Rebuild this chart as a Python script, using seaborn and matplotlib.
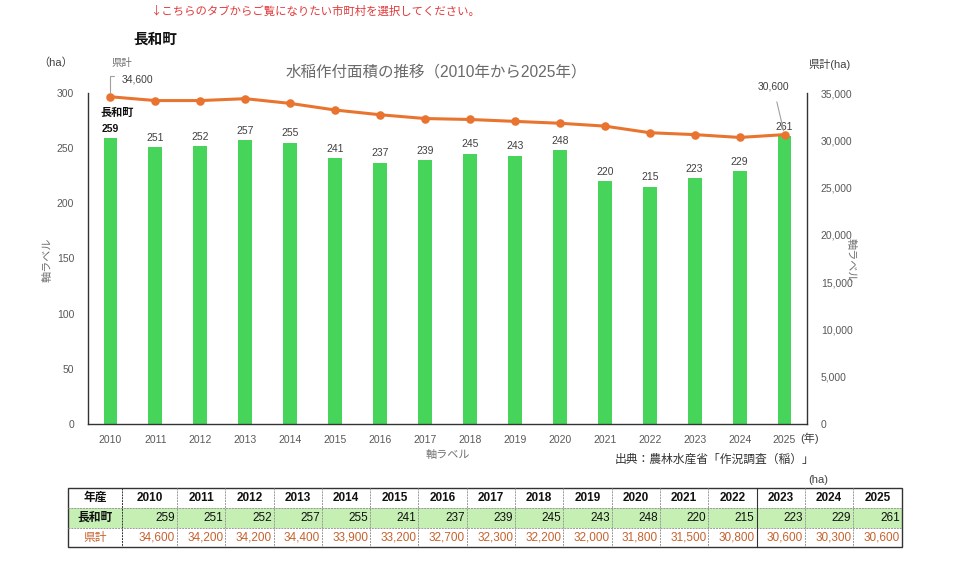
import numpy as np
import pandas as pd
import matplotlib
matplotlib.use("Agg")
import matplotlib.pyplot as plt
import seaborn as sns

years = [str(y) for y in range(2010, 2026)]
town = [259, 251, 252, 257, 255, 241, 237, 239, 245, 243, 248, 220, 215, 223, 229, 261]
pref = [34600, 34200, 34200, 34400, 33900, 33200, 32700, 32300, 32200, 32000,
        31800, 31500, 30800, 30600, 30300, 30600]
town_name = "長和町"
pref_name = "県計"

sns.set_theme(style="white")
plt.rcParams["font.family"] = ["Liberation Sans", "Noto Sans CJK JP", "DejaVu Sans"]

BAR = "#47D45A"
LINE = "#E8742F"
TICK = "#595959"
ORANGE_TXT = "#C4622D"

fig = plt.figure(figsize=(9.6, 5.68), dpi=100)
W, H = 960, 568


def fx(px):
    return px / W


def fy(py):
    return 1 - py / H


ax = fig.add_axes([fx(88), fy(424), fx(807 - 88), fy(93) - fy(424)])
df = pd.DataFrame({"year": years, "town": town, "pref": pref})

sns.barplot(data=df, x="year", y="town", ax=ax, color=BAR, width=0.31,
            saturation=1, edgecolor="none")
ax.set_ylim(0, 300)
ax.set_yticks(range(0, 301, 50))
ax.set_xlim(-0.5, len(years) - 0.5)
ax.set_xlabel("")
ax.set_ylabel("")

ax2 = ax.twinx()
sns.pointplot(data=df, x="year", y="pref", ax=ax2, color=LINE, markers="o",
              markersize=4.5, linewidth=2.2)
ax2.set_ylim(0, 35000)
ax2.set_yticks(range(0, 35001, 5000))
ax2.yaxis.set_major_formatter(matplotlib.ticker.FuncFormatter(lambda v, p: f"{int(v):,}"))
ax2.set_xlim(-0.5, len(years) - 0.5)
ax2.set_xlabel("")
ax2.set_ylabel("")

for a in (ax, ax2):
    a.spines["top"].set_visible(False)
    a.tick_params(length=0, labelsize=7.5, labelcolor=TICK)
ax.spines["right"].set_visible(False)
ax2.spines["left"].set_visible(False)
ax2.spines["bottom"].set_visible(False)
for s in ("left", "bottom"):
    ax.spines[s].set_color("#333333")
    ax.spines[s].set_linewidth(1.0)
ax2.spines["right"].set_color("#333333")
ax2.spines["right"].set_linewidth(1.0)
ax.tick_params(axis="y", pad=10)
ax.tick_params(axis="x", pad=8)
ax2.tick_params(axis="y", pad=10)

# bar value labels
for i, v in enumerate(town):
    if i == 0:
        ax.text(i, v + 4, str(v), ha="center", va="bottom", fontsize=7.5,
                fontweight="bold", color="#111111")
        ax.text(i + 0.15, v + 18, town_name, ha="center", va="bottom",
                fontsize=8, fontweight="bold", color="#111111")
    else:
        ax.text(i, v + 4, str(v), ha="center", va="bottom", fontsize=7.5, color="#404040")

# line labels with leader lines
ax2.annotate(f"{pref[0]:,}", xy=(0, pref[0]), xytext=(0.6, 36400),
             ha="center", va="center", fontsize=7.5, color="#404040",
             annotation_clip=False,
             arrowprops=dict(arrowstyle="-", color="#A0A0A0", lw=0.8,
                             connectionstyle="angle,angleA=0,angleB=90,rad=0",
                             relpos=(0, 0.9), shrinkA=3, shrinkB=3))
ax2.text(0.25, 38170, pref_name, ha="center", va="center",
         fontsize=7.5, color="#707070", clip_on=False)
last = len(years) - 1
ax2.annotate(f"{pref[last]:,}", xy=(last, pref[last]), xytext=(last - 0.25, 35650),
             ha="center", va="center", fontsize=7.5, color="#404040",
             annotation_clip=False,
             arrowprops=dict(arrowstyle="-", color="#A0A0A0", lw=0.8,
                             shrinkA=5, shrinkB=3))

# texts
fig.text(fx(150), fy(11), "↓こちらのタブからご覧になりたい市町村を選択してください。",
         color="#E0393A", fontsize=8.2, va="center", ha="left",
         family=["Noto Sans CJK JP", "DejaVu Sans"])
fig.text(fx(133), fy(40), town_name, fontsize=10.5, fontweight="bold",
         va="center", ha="left", color="#111111")
fig.text(fx(38), fy(63), "（ha）", fontsize=8, va="center", ha="left", color="#404040")
fig.text(fx(808), fy(65), "県計(ha)", fontsize=8, va="center", ha="left", color="#404040")
fig.text(fx(436), fy(72), "水稲作付面積の推移（2010年から2025年）", fontsize=11.2,
         va="center", ha="center", color="#6A6A6A")
fig.text(fx(48), fy(260), "軸ラベル", fontsize=8, rotation=90, va="center",
         ha="center", color="#707070")
fig.text(fx(851), fy(260), "軸ラベル", fontsize=8, rotation=270, va="center",
         ha="center", color="#707070")
fig.text(fx(448), fy(455), "軸ラベル", fontsize=8, va="center", ha="center", color="#707070")
fig.text(fx(800), fy(438), "(年)", fontsize=8, va="center", ha="left", color="#404040")
fig.text(fx(615), fy(460), "出典：農林水産省「作況調査（稲）」", fontsize=8.5,
         va="center", ha="left", color="#333333")
fig.text(fx(808), fy(480), "(ha)", fontsize=8, va="center", ha="left", color="#404040")

# data table
tx0, tx1, ty0, ty1 = 68, 902, 488, 547
tab = fig.add_axes([fx(tx0), fy(ty1), fx(tx1 - tx0), fy(ty0) - fy(ty1)])
tab.set_xlim(tx0, tx1)
tab.set_ylim(ty1, ty0)
tab.axis("off")
edges = [68, 122, 177] + [177 + 48.3 * k for k in range(1, 16)]
edges[-1] = tx1
rows = [ty0, 508, 528, ty1]
tab.add_patch(plt.Rectangle((tx0, rows[1]), tx1 - tx0, rows[2] - rows[1],
                            facecolor="#C6EFB4", edgecolor="none"))
for yy in rows[1:3]:
    tab.plot([tx0, tx1], [yy, yy], color="#999999", lw=0.7, ls=(0, (2, 1)))
for k, xx in enumerate(edges[1:-1]):
    solid = years[k] == "2023"
    tab.plot([xx, xx], [ty0, ty1], color="#333333" if solid or k == 0 else "#999999",
             lw=0.8 if solid else 0.7, ls="-" if solid else (0, (2, 1)))
tab.add_patch(plt.Rectangle((tx0, ty0), tx1 - tx0, ty1 - ty0, facecolor="none",
                            edgecolor="#333333", lw=1.0, clip_on=False))
mid = [(rows[r] + rows[r + 1]) / 2 for r in range(3)]
tab.text((edges[0] + edges[1]) / 2, mid[0], "年産", ha="center", va="center",
         fontsize=8.5, fontweight="bold", color="#111111")
tab.text((edges[0] + edges[1]) / 2, mid[1], town_name, ha="center", va="center",
         fontsize=8.5, fontweight="bold", color="#111111")
tab.text((edges[0] + edges[1]) / 2, mid[2], pref_name, ha="center", va="center",
         fontsize=8.5, color=ORANGE_TXT)
for i, y in enumerate(years):
    l, r = edges[i + 1], edges[i + 2]
    tab.text((l + r) / 2, mid[0], y, ha="center", va="center", fontsize=8.5,
             fontweight="bold", color="#111111")
    tab.text(r - 2, mid[1], str(town[i]), ha="right", va="center", fontsize=8.5,
             color="#111111")
    tab.text(r - 2, mid[2], f"{pref[i]:,}", ha="right", va="center", fontsize=8.5,
             color=ORANGE_TXT)

fig.savefig("out.png", dpi=100)
